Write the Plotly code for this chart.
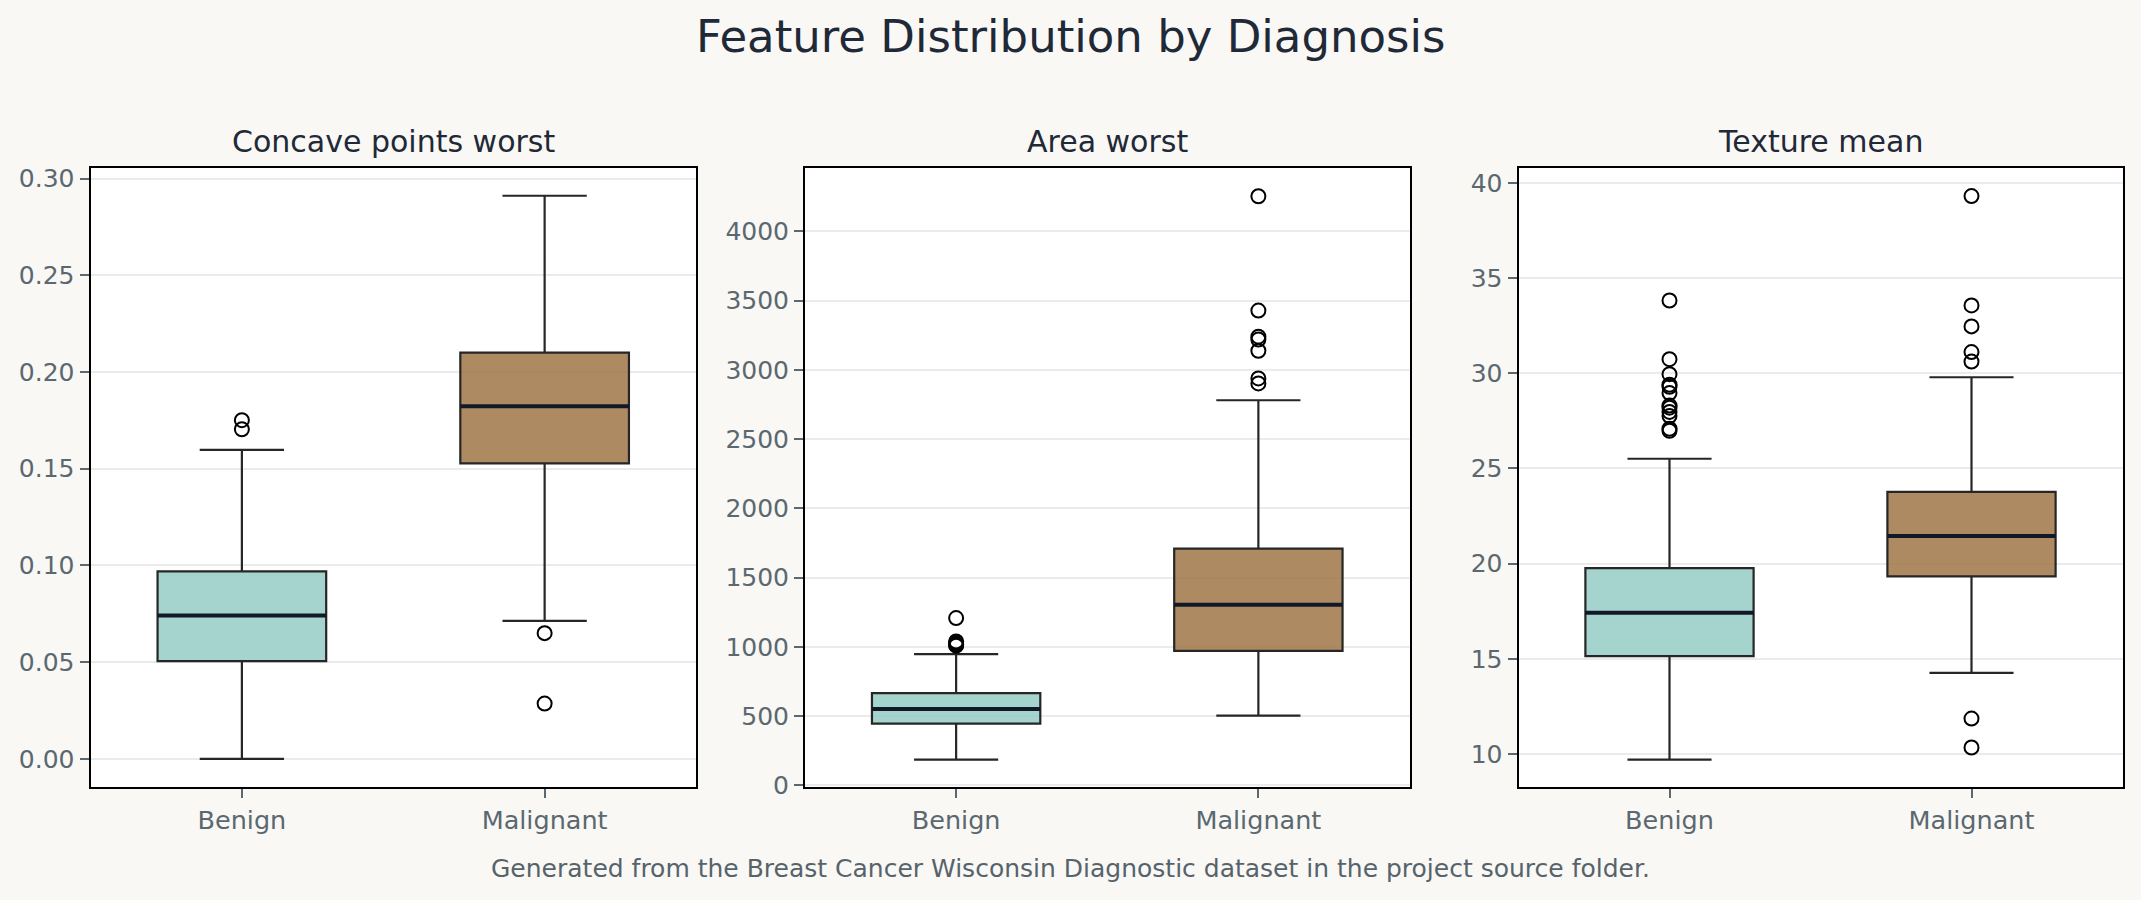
import plotly.graph_objects as go

W, H = 2141, 900

categories = ["Benign", "Malignant"]
panel_titles = ["Concave points worst", "Area worst", "Texture mean"]

# five-number summaries per panel: [Benign, Malignant]
cpw_lower = [0.0, 0.0713]
cpw_q1 = [0.0505, 0.1528]
cpw_median = [0.0741, 0.1823]
cpw_q3 = [0.0969, 0.2100]
cpw_upper = [0.1597, 0.2911]
cpw_out_benign = [0.1751, 0.1704]
cpw_out_malignant = [0.0650, 0.0286]

area_lower = [184.6, 502.3]
area_q1 = [444.8, 971.0]
area_median = [550.7, 1304.0]
area_q3 = [665.7, 1709.5]
area_upper = [947.0, 2780.6]
area_out_benign = [1207.0, 1038.0, 1027.0, 1017.0, 1008.0]
area_out_malignant = [4254.0, 3428.0, 3240.0, 3219.0, 3138.0, 2938.0, 2902.0]

tex_lower = [9.71, 14.27]
tex_q1 = [15.15, 19.33]
tex_median = [17.43, 21.46]
tex_q3 = [19.77, 23.77]
tex_upper = [25.51, 29.79]
tex_out_benign = [33.82, 30.74, 29.95, 29.40, 29.29, 28.96, 28.30, 28.19, 27.97, 27.75, 27.09, 26.98]
tex_out_malignant = [39.30, 33.56, 32.46, 31.11, 30.61, 11.87, 10.35]

panels = [
    dict(lower=cpw_lower, q1=cpw_q1, med=cpw_median, q3=cpw_q3, upper=cpw_upper,
         outs=[cpw_out_benign, cpw_out_malignant], rng=[-0.0147, 0.3056], dtick=0.05, fmt=".2f"),
    dict(lower=area_lower, q1=area_q1, med=area_median, q3=area_q3, upper=area_upper,
         outs=[area_out_benign, area_out_malignant], rng=[-15, 4460], dtick=500, fmt="d"),
    dict(lower=tex_lower, q1=tex_q1, med=tex_median, q3=tex_q3, upper=tex_upper,
         outs=[tex_out_benign, tex_out_malignant], rng=[8.26, 40.79], dtick=5, fmt="d"),
]

fills = ["rgba(149,203,196,0.85)", "rgba(160,117,72,0.85)"]
edge = "#262626"
font = "DejaVu Sans"
tick_color = "#5b6870"

# pixel geometry of panels
px_left = [90.5, 805.0, 1518.5]
px_right = [696.0, 1409.5, 2122.5]
px_top, px_bottom = 167.7, 798.5
box_w = 0.557

fig = go.Figure()
for i, p in enumerate(panels):
    ax = "" if i == 0 else str(i + 1)
    xa, ya = "x" + ax, "y" + ax
    for j, cat in enumerate(categories):
        fig.add_trace(go.Box(
            x=[cat], q1=[p["q1"][j]], median=[p["med"][j]], q3=[p["q3"][j]],
            lowerfence=[p["lower"][j]], upperfence=[p["upper"][j]],
            fillcolor=fills[j], line=dict(color=edge, width=2.2), whiskerwidth=0.5,
            width=box_w, boxpoints=False, xaxis=xa, yaxis=ya, showlegend=False,
            hoverinfo="skip",
        ))
        # thick median line (line-ew symbol half-length = 1.4 * size/2)
        pxw = (px_right[i] - px_left[i]) / 2.0 * box_w
        fig.add_trace(go.Scatter(
            x=[cat], y=[p["med"][j]], mode="markers",
            marker=dict(symbol="line-ew", size=pxw / 1.4, color="#111827",
                        line=dict(color="#111827", width=4)),
            xaxis=xa, yaxis=ya, showlegend=False, hoverinfo="skip",
        ))
        fig.add_trace(go.Scatter(
            x=[cat] * len(p["outs"][j]), y=p["outs"][j], mode="markers",
            marker=dict(symbol="circle", size=14, color="rgba(255,255,255,0)",
                        line=dict(color="black", width=2)),
            xaxis=xa, yaxis=ya, showlegend=False, hoverinfo="skip", cliponaxis=False,
        ))

    xd = [px_left[i] / W, px_right[i] / W]
    yd = [1 - px_bottom / H, 1 - px_top / H]
    fig.layout["xaxis" + ax] = dict(
        domain=xd, anchor=ya, type="category", categoryorder="array",
        categoryarray=categories, range=[-0.5, 1.5], showgrid=False,
        showline=True, linecolor="black", linewidth=2, mirror=True,
        ticks="outside", ticklen=9, tickwidth=1.5, tickcolor=tick_color,
        tickfont=dict(family=font, size=25.5, color=tick_color), zeroline=False,
    )
    fig.layout["yaxis" + ax] = dict(
        domain=yd, anchor=xa, range=p["rng"], dtick=p["dtick"], tick0=0,
        tickformat=p["fmt"], showgrid=True, gridcolor="#ebebeb", gridwidth=1.5,
        showline=True, linecolor="black", linewidth=2, mirror=True,
        ticks="outside", ticklen=9, tickwidth=1.5, tickcolor=tick_color,
        tickfont=dict(family=font, size=25, color=tick_color), zeroline=False,
    )
    fig.add_annotation(
        text=panel_titles[i], x=(xd[0] + xd[1]) / 2, y=1 - 141.5 / H, xref="paper", yref="paper",
        xanchor="center", yanchor="middle", showarrow=False,
        font=dict(family=font, size=30, color="#1f2937"),
    )

fig.add_annotation(
    text="Feature Distribution by Diagnosis", x=0.5, y=1 - 34 / H, xref="paper", yref="paper",
    xanchor="center", yanchor="middle", showarrow=False,
    font=dict(family=font, size=45, color="#1f2937"),
)
fig.add_annotation(
    text="Generated from the Breast Cancer Wisconsin Diagnostic dataset in the project source folder.",
    x=0.5, y=1 - 881 / H, xref="paper", yref="paper", xanchor="center", yanchor="middle",
    showarrow=False, font=dict(family=font, size=25, color="#56636b"),
)

fig.update_layout(
    width=W, height=H, margin=dict(l=0, r=0, t=0, b=0),
    paper_bgcolor="#f9f8f5", plot_bgcolor="white", boxmode="overlay",
    showlegend=False,
)
fig.write_html("out.html", config={"displayModeBar": False})
